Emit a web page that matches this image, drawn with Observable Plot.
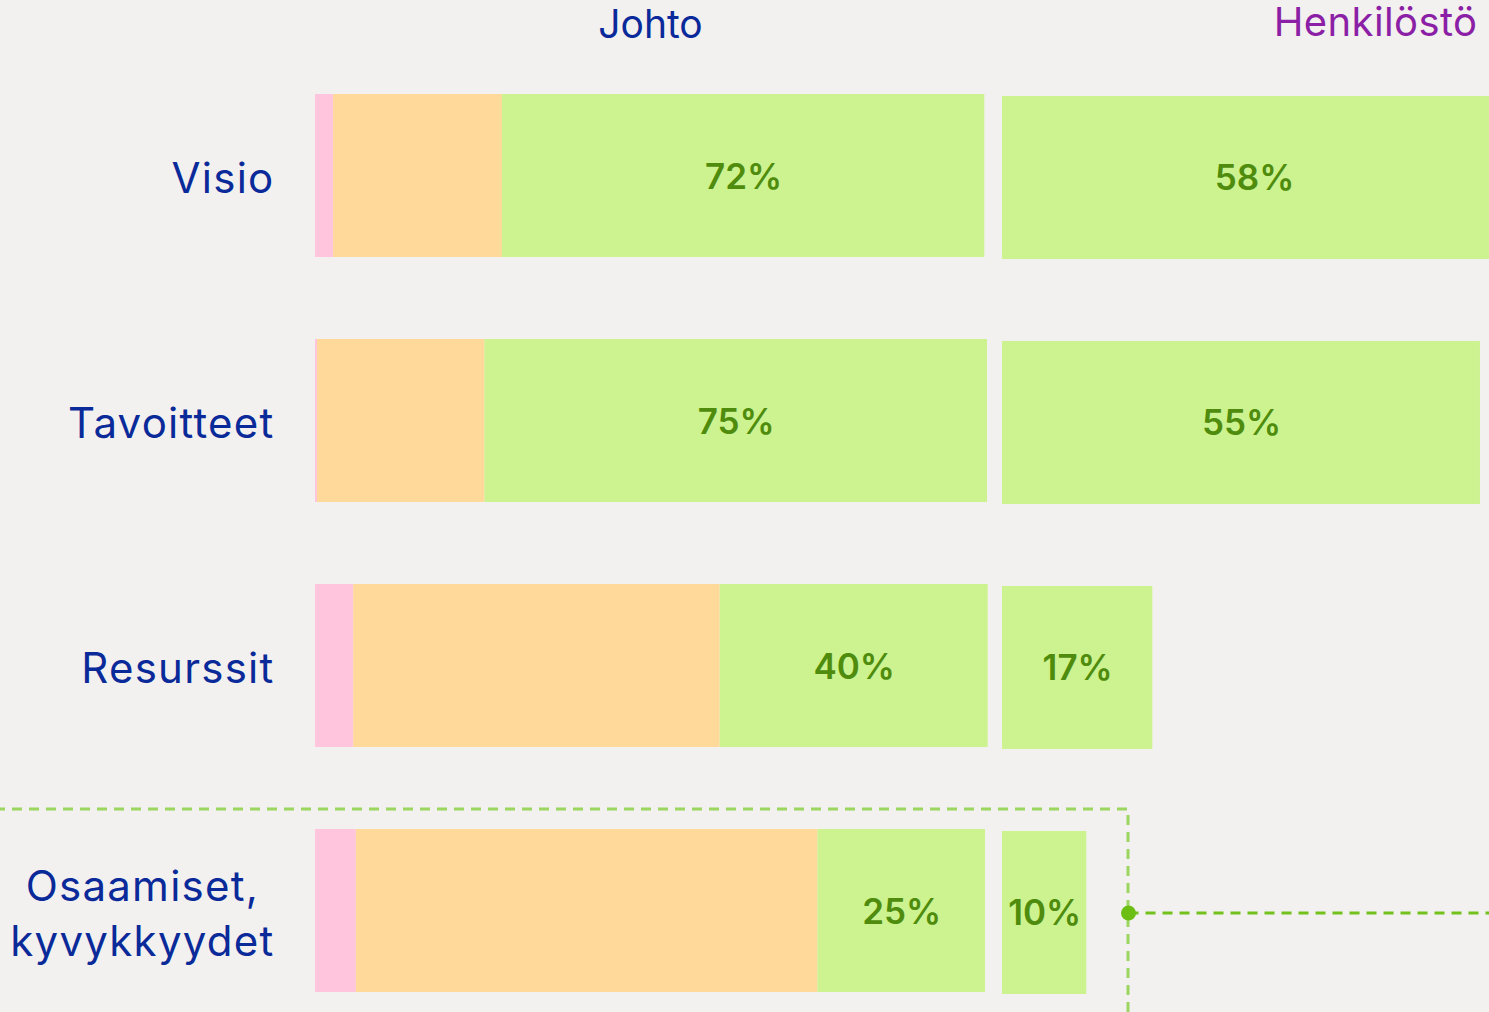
<!DOCTYPE html>
<html>
<head>
<meta charset="utf-8">
<script src="https://cdn.jsdelivr.net/npm/d3@7"></script>
<script src="https://cdn.jsdelivr.net/npm/@observablehq/plot@0.6"></script>
<style>
  html, body { margin: 0; padding: 0; background: #f3f1ef; }
  #chart { position: relative; width: 1489px; height: 1012px; overflow: hidden; background: #f3f1ef; }
  #chart svg { position: absolute; top: 0; left: 0; overflow: visible; }
  #chart g[fill="#0a2a9a"] text { letter-spacing: 1.25px; }
  #chart g[fill="#8b1fa5"] text { letter-spacing: 0.4px; }
</style>
</head>
<body>
<div id="chart"></div>
<script>
// ---- data ----
const categories = ["Visio", "Tavoitteet", "Resurssit", "Osaamiset,\nkyvykkyydet"];
const segments = ["Eri mieltä", "Osittain", "Samaa mieltä"];
const johtoNeg   = [2.7, 0.3, 5.7, 6.1];
const johtoMid   = [25.2, 25.0, 54.7, 68.9];
const johtoPos   = [72, 75, 40, 25];
const henkPos    = [58, 55, 17.3, 9.7];
const henkLabels = ["58%", "55%", "17%", "10%"];
const johtoLabels = ["72%", "75%", "40%", "25%"];
const highlightCategory = "Osaamiset,\nkyvykkyydet";
const highlightXEnd = 14.5;   // in Henkilöstö % units
const titles = ["Johto", "Henkilöstö"];

// ---- style ----
const segColors = ["#ffc5dc", "#ffd999", "#ccf38f"];
const blue = "#0a2a9a", titleBlue = "#0a2a9b", purple = "#8b1fa5", darkGreen = "#4f8c0e";
const font = "Inter, 'Noto Sans', sans-serif";

const johto = [];
categories.forEach((c, i) => {
  johto.push({cat: c, seg: segments[0], v: johtoNeg[i], label: null});
  johto.push({cat: c, seg: segments[1], v: johtoMid[i], label: null});
  johto.push({cat: c, seg: segments[2], v: johtoPos[i], label: johtoLabels[i]});
});
const henk = categories.map((c, i) => ({cat: c, v: henkPos[i], label: henkLabels[i]}));

const chart = document.getElementById("chart");

const plotA = Plot.plot({
  width: 1000, height: 1012,
  marginLeft: 315, marginRight: 15, marginTop: 0, marginBottom: 0,
  style: {background: "transparent", fontFamily: font},
  x: {domain: [0, 100], range: [315, 985], axis: null},
  y: {domain: categories, range: [11, 1076], padding: 1/3, axis: null},
  color: {type: "ordinal", domain: segments, range: segColors},
  marks: [
    Plot.barX(johto, Plot.stackX({x: "v", y: "cat", z: "seg", fill: "seg"})),
    Plot.text(johto, Plot.stackX({x: "v", y: "cat", z: "seg", text: "label", dy: 2,
      fill: darkGreen, fontSize: 35, fontWeight: 600, fontFamily: font})),
    Plot.text(categories, {y: d => d, text: d => d, frameAnchor: "left", dx: -41,
      textAnchor: "end", fill: blue, fontSize: 42, lineHeight: 1.3, fontFamily: font}),
    Plot.text([titles[0]], {frameAnchor: "top", dy: 25, lineAnchor: "middle",
      fill: titleBlue, fontSize: 39, fontFamily: font})
  ]
});

const plotB = Plot.plot({
  width: 1489, height: 1012,
  marginLeft: 1002, marginRight: 12, marginTop: 0, marginBottom: 0,
  style: {background: "transparent", fontFamily: font},
  x: {domain: [0, 100], range: [1002, 1871], axis: null},
  y: {domain: categories, range: [12.5, 1077.5], padding: 1/3, axis: null},
  marks: [
    Plot.barX(henk, {x: "v", y: "cat", fill: segColors[2]}),
    Plot.text(henk, {x: d => d.v / 2, y: "cat", text: "label", dy: 1,
      fill: darkGreen, fontSize: 35, fontWeight: 600, fontFamily: font}),
    Plot.barX([highlightCategory], {x1: -200, x2: highlightXEnd, y: d => d,
      insetTop: -22, insetBottom: -150, fill: "none",
      stroke: "#9ad660", strokeWidth: 3, strokeDasharray: "10,7"}),
    Plot.link([highlightCategory], {x1: highlightXEnd, x2: 100, y1: d => d, y2: d => d,
      stroke: "#72c11c", strokeWidth: 3, strokeDasharray: "10,7"}),
    Plot.dot([highlightCategory], {x: highlightXEnd, y: d => d, r: 7.5, fill: "#6cbf12"}),
    Plot.text([titles[1]], {frameAnchor: "top-right", dy: 23, lineAnchor: "middle",
      textAnchor: "end", fill: purple, fontSize: 40, fontFamily: font})
  ]
});

chart.appendChild(plotA);
chart.appendChild(plotB);

// center the lines of multi-line category labels within their right-aligned block
d3.select(plotA).selectAll(`g[fill="${blue}"] text`).each(function () {
  const tspans = this.querySelectorAll("tspan");
  if (tspans.length < 2) return;
  const w = this.getBBox().width;
  this.setAttribute("text-anchor", "middle");
  tspans.forEach(t => t.setAttribute("x", -w / 2));
});
</script>
</body>
</html>
